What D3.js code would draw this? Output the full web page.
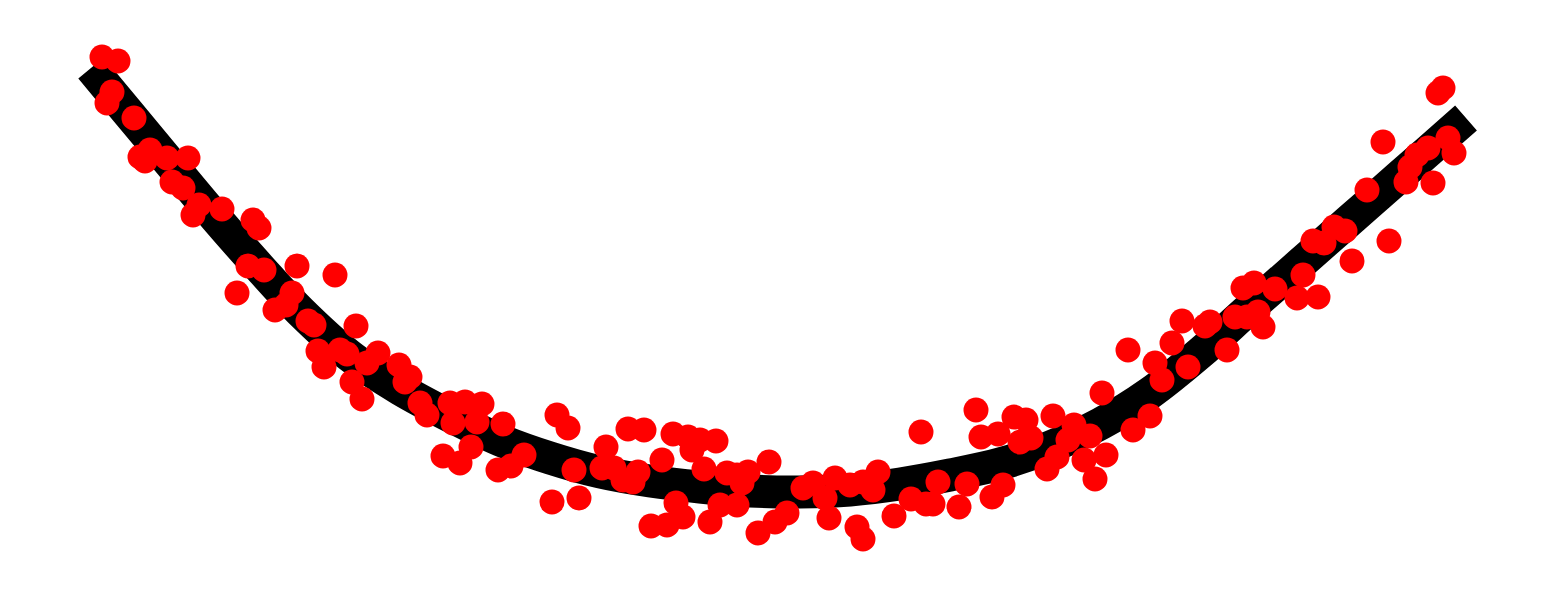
<!DOCTYPE html>
<html>
<head>
<meta charset="utf-8">
<script src="https://cdn.jsdelivr.net/npm/d3@7"></script>
<style>
	html, body { margin: 0; padding: 0; background: #fff; }
	svg { display: block; }
</style>
</head>
<body>
<svg id="chart"></svg>
<script>
// observed samples
const sampleX = [
	-6.76, -6.60, -6.66, -6.71, -6.44, -6.38, -6.28, -6.33, -6.11, -5.90,
	-6.06, -5.95, -5.79, -5.85, -5.56, -5.25, -5.19, -5.30, -5.14, -4.81,
	-4.43, -5.41, -4.86, -4.92, -5.03, -4.70, -4.64, -4.22, -4.60, -4.54,
	-4.38, -4.31, -4.11, -4.00, -4.26, -4.16, -3.79, -3.68, -3.73, -3.58,
	-3.51, -3.28, -3.13, -2.96, -3.25, -3.01, -2.75, -3.35, -3.18, -3.07,
	-2.80, -2.67, -2.54, -2.21, -2.10, -2.26, -1.99, -2.04, -1.72, -1.76,
	-1.64, -1.55, -1.40, -1.45, -1.50, -1.34, -1.16, -1.05, -0.90, -0.78,
	-0.62, -0.86, -0.74, -0.51, -0.41, -0.30, -0.36, -0.09, -1.02, -0.95,
	-1.27, -1.11, -0.68, -0.58, -0.41, -0.20, -0.03, 0.09, 0.25, 0.35,
	0.47, 0.57, 0.51, 0.72, 0.85, 0.95, 1.00, 0.79, 0.85, 1.16,
	1.33, 1.48, 1.55, 1.60, 1.81, 1.89, 1.98, 1.43, 2.03, 2.20,
	2.36, 2.48, 2.42, 2.53, 2.14, 2.25, 2.69, 2.75, 2.79, 2.96,
	2.90, 3.12, 3.06, 3.17, 3.28, 3.24, 3.50, 3.55, 3.72, 3.77,
	3.84, 3.94, 4.04, 4.10, 4.27, 4.32, 4.49, 4.57, 4.65, 4.76,
	4.69, 4.80, 4.85, 4.97, 5.19, 5.25, 5.40, 5.35, 5.46, 5.56,
	5.67, 5.74, 6.11, 5.89, 6.05, 6.28, 6.55, 6.32, 6.39, 6.50,
	6.70, 6.76, 6.60, 6.65
];
const sampleY = [
	4.43, 4.39, 4.08, 3.97, 3.82, 3.43, 3.50, 3.39, 3.42, 3.42,
	3.18, 3.12, 2.95, 2.85, 2.91, 2.80, 2.72, 2.34, 2.30, 2.34,
	2.25, 2.07, 2.07, 1.95, 1.90, 1.79, 1.75, 1.74, 1.49, 1.33,
	1.50, 1.46, 1.37, 1.47, 1.18, 1.01, 1.35, 1.23, 1.18, 0.97,
	0.85, 0.97, 0.98, 0.96, 0.77, 0.78, 0.76, 0.44, 0.37, 0.53,
	0.30, 0.34, 0.45, 0.85, 0.72, -0.02, 0.02, 0.30, 0.53, 0.32,
	0.32, 0.20, 0.28, 0.18, 0.71, 0.70, 0.40, 0.66, 0.63, 0.60,
	0.59, 0.50, 0.31, 0.27, 0.25, 0.28, 0.17, 0.38, -0.03, -0.17,
	-0.26, -0.25, -0.22, -0.05, -0.05, -0.33, -0.22, -0.13, 0.12, 0.17,
	0.02, 0.22, -0.18, 0.15, 0.18, 0.10, 0.28, -0.27, -0.39, -0.16,
	0.01, -0.04, -0.04, 0.18, -0.07, 0.16, 0.90, 0.68, 0.63, 0.66,
	0.83, 0.80, 0.58, 0.62, 0.03, 0.15, 0.31, 0.84, 0.43, 0.75,
	0.60, 0.64, 0.40, 0.21, 0.45, 1.07, 1.50, 0.70, 0.84, 1.37,
	1.20, 1.57, 1.79, 1.33, 1.74, 1.78, 1.50, 1.83, 2.12, 2.17,
	1.83, 1.88, 1.73, 2.11, 2.02, 2.25, 2.03, 2.59, 2.57, 2.73,
	2.69, 2.39, 2.59, 3.10, 3.58, 3.18, 3.17, 3.33, 3.45, 3.52,
	3.62, 3.47, 4.07, 4.12
];

// fitted curve
const fitX = [
	-6.87, -6.28, -5.63, -5.18, -4.78, -4.28, -3.78, -3.28, -2.78, -2.28,
	-1.78, -1.28, -0.78, -0.28, 0.22, 0.72, 1.22, 1.72, 2.22, 2.72,
	3.22, 3.72, 4.22, 4.72, 5.22, 5.72, 6.22, 6.88
];
const fitY = [
	4.32, 3.61, 2.83, 2.32, 1.89, 1.44, 1.11, 0.84, 0.60, 0.42,
	0.28, 0.19, 0.13, 0.09, 0.08, 0.10, 0.16, 0.25, 0.36, 0.53,
	0.76, 1.07, 1.47, 1.92, 2.36, 2.80, 3.24, 3.82
];

const width = 1555;
const height = 596;

const x = d3.scaleLinear()
	.domain([-7.78, 7.77])
	.range([0, width]);
const y = d3.scaleLinear()
	.domain([5, -0.96])
	.range([0, height]);

const points = sampleX.map((d, i) => ({ x: d, y: sampleY[i] }));
const fit = fitX.map((d, i) => ({ x: d, y: fitY[i] }));

const svg = d3.select("#chart")
	.attr("width", width)
	.attr("height", height);

const line = d3.line()
	.x((d) => x(d.x))
	.y((d) => y(d.y))
	.curve(d3.curveCatmullRom.alpha(0.5));

svg.append("path")
	.datum(fit)
	.attr("d", line)
	.attr("fill", "none")
	.attr("stroke", "#000")
	.attr("stroke-width", 33)
	.attr("stroke-linecap", "butt");

svg.selectAll(".dot")
	.data(points)
	.enter()
	.append("circle")
	.attr("class", "dot")
	.attr("cx", (d) => x(d.x))
	.attr("cy", (d) => y(d.y))
	.attr("r", 12.5)
	.attr("fill", "#ff0000");
</script>
</body>
</html>
